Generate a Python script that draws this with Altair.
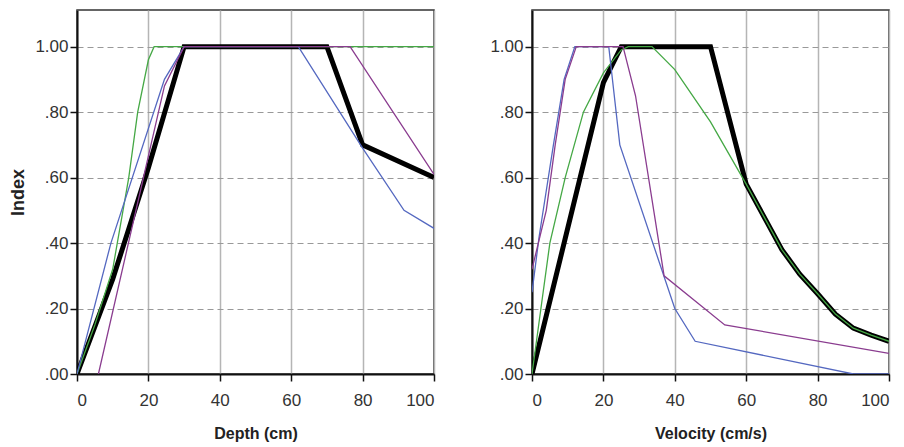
import altair as alt
import pandas as pd

# ---- Depth panel (cm) ----
depth_black_x = [0, 10, 20, 30, 70, 80, 100]
depth_black_y = [0.0, 0.29, 0.63, 1.0, 1.0, 0.70, 0.60]
depth_green_x = [0, 5, 10, 14.5, 17, 20, 21.6, 100]
depth_green_y = [0.0, 0.15, 0.32, 0.60, 0.80, 0.96, 1.0, 1.0]
depth_blue_x = [0, 9.5, 24.5, 30, 62, 80, 91.6, 100]
depth_blue_y = [0.0, 0.40, 0.90, 1.0, 1.0, 0.69, 0.50, 0.445]
depth_purple_x = [6, 24.5, 30, 76.5, 100]
depth_purple_y = [0.0, 0.88, 1.0, 1.0, 0.61]

# ---- Velocity panel (cm/s) ----
vel_black_x = [0, 20, 25, 50, 60, 65, 70, 75, 80, 85, 90, 95, 100]
vel_black_y = [0.0, 0.89, 1.0, 1.0, 0.58, 0.48, 0.38, 0.305, 0.245, 0.183, 0.14, 0.119, 0.10]
vel_green_x = [0, 2.5, 5, 9.3, 14.4, 20, 25, 27, 33.6, 40, 50, 60, 65, 70, 75, 80, 85, 90, 95, 100]
vel_green_y = [0.0, 0.20, 0.40, 0.60, 0.80, 0.92, 0.99, 1.0, 1.0, 0.93, 0.77, 0.58, 0.48, 0.38, 0.305, 0.245, 0.183, 0.14, 0.119, 0.10]
vel_blue_x = [0, 2, 6, 9, 12, 21.5, 24.6, 40, 45.7, 90, 100]
vel_blue_y = [0.25, 0.42, 0.70, 0.90, 1.0, 1.0, 0.70, 0.20, 0.10, 0.0, 0.0]
vel_purple_x = [0, 4, 6.5, 9.3, 12.4, 25.5, 29, 37, 54, 100]
vel_purple_y = [0.32, 0.50, 0.70, 0.90, 1.0, 1.0, 0.85, 0.30, 0.15, 0.063]

series_names = ["black", "green", "blue", "purple"]
series_colors = ["#000000", "#45a845", "#5468c0", "#8a3c8f"]
y_ticks = [0, 0.2, 0.4, 0.6, 0.8, 1.0]
x_ticks = [0, 20, 40, 60, 80, 100]


def frame(xs, ys, name):
    return pd.DataFrame({"x": xs, "y": ys, "series": name, "idx": range(len(xs))})


depth_df = pd.concat([
    frame(depth_black_x, depth_black_y, "black"),
    frame(depth_green_x, depth_green_y, "green"),
    frame(depth_blue_x, depth_blue_y, "blue"),
    frame(depth_purple_x, depth_purple_y, "purple"),
])
vel_df = pd.concat([
    frame(vel_black_x, vel_black_y, "black"),
    frame(vel_green_x, vel_green_y, "green"),
    frame(vel_blue_x, vel_blue_y, "blue"),
    frame(vel_purple_x, vel_purple_y, "purple"),
])

color_scale = alt.Scale(domain=series_names, range=series_colors)
label_expr = "datum.value >= 1 ? '1.00' : replace(format(datum.value, '.2f'), '0.', '.')"


def panel(df, xtitle, ytitle, show_ytitle):
    yaxis_kwargs = dict(values=y_ticks, labelExpr=label_expr, grid=True,
                        gridDash=[6, 4], gridColor="#999999", gridWidth=1.2,
                        minExtent=40, maxExtent=40)
    if show_ytitle:
        yaxis = alt.Axis(title=ytitle, titlePadding=10, titleFontSize=18, **yaxis_kwargs)
    else:
        yaxis = alt.Axis(title=None, **yaxis_kwargs)
    x = alt.X("x:Q", scale=alt.Scale(domain=[0, 100], nice=False),
              axis=alt.Axis(values=x_ticks, title=xtitle, grid=True,
                            gridColor="#b5b5b5", gridWidth=1.5, labelPadding=11,
                            titlePadding=17))
    y = alt.Y("y:Q", scale=alt.Scale(domain=[0, 1.112], nice=False, zero=True), axis=yaxis)
    base = alt.Chart(df)
    black = base.transform_filter(alt.datum.series == "black").mark_line(
        strokeWidth=5, color="black", strokeJoin="miter", clip=True
    ).encode(x=x, y=y, order="idx:Q")
    colored = base.transform_filter(alt.datum.series != "black").mark_line(
        strokeWidth=1.3, clip=True
    ).encode(x=x, y=y,
             color=alt.Color("series:N", scale=color_scale, legend=None),
             detail="series:N", order="idx:Q")
    return alt.layer(black, colored).properties(width=357, height=364)


left = panel(depth_df, "Depth (cm)", "Index", True)
right = panel(vel_df, "Velocity (cm/s)", None, False)

chart = alt.hconcat(left, right, spacing=53).properties(
    padding={"left": 0, "top": 1, "right": 5, "bottom": 5}
).configure_view(
    stroke="#333333", strokeWidth=1.5
).configure_axis(
    domainColor="#111111", domainWidth=2, tickColor="#111111", tickWidth=1.5,
    tickSize=7, labelFont="Liberation Sans", labelFontSize=17, labelColor="#333333",
    titleFont="Liberation Sans", titleFontSize=16, titleFontWeight="bold", titleColor="#222222",
)

chart.save("out.html", embed_options={"renderer": "svg", "actions": False})
